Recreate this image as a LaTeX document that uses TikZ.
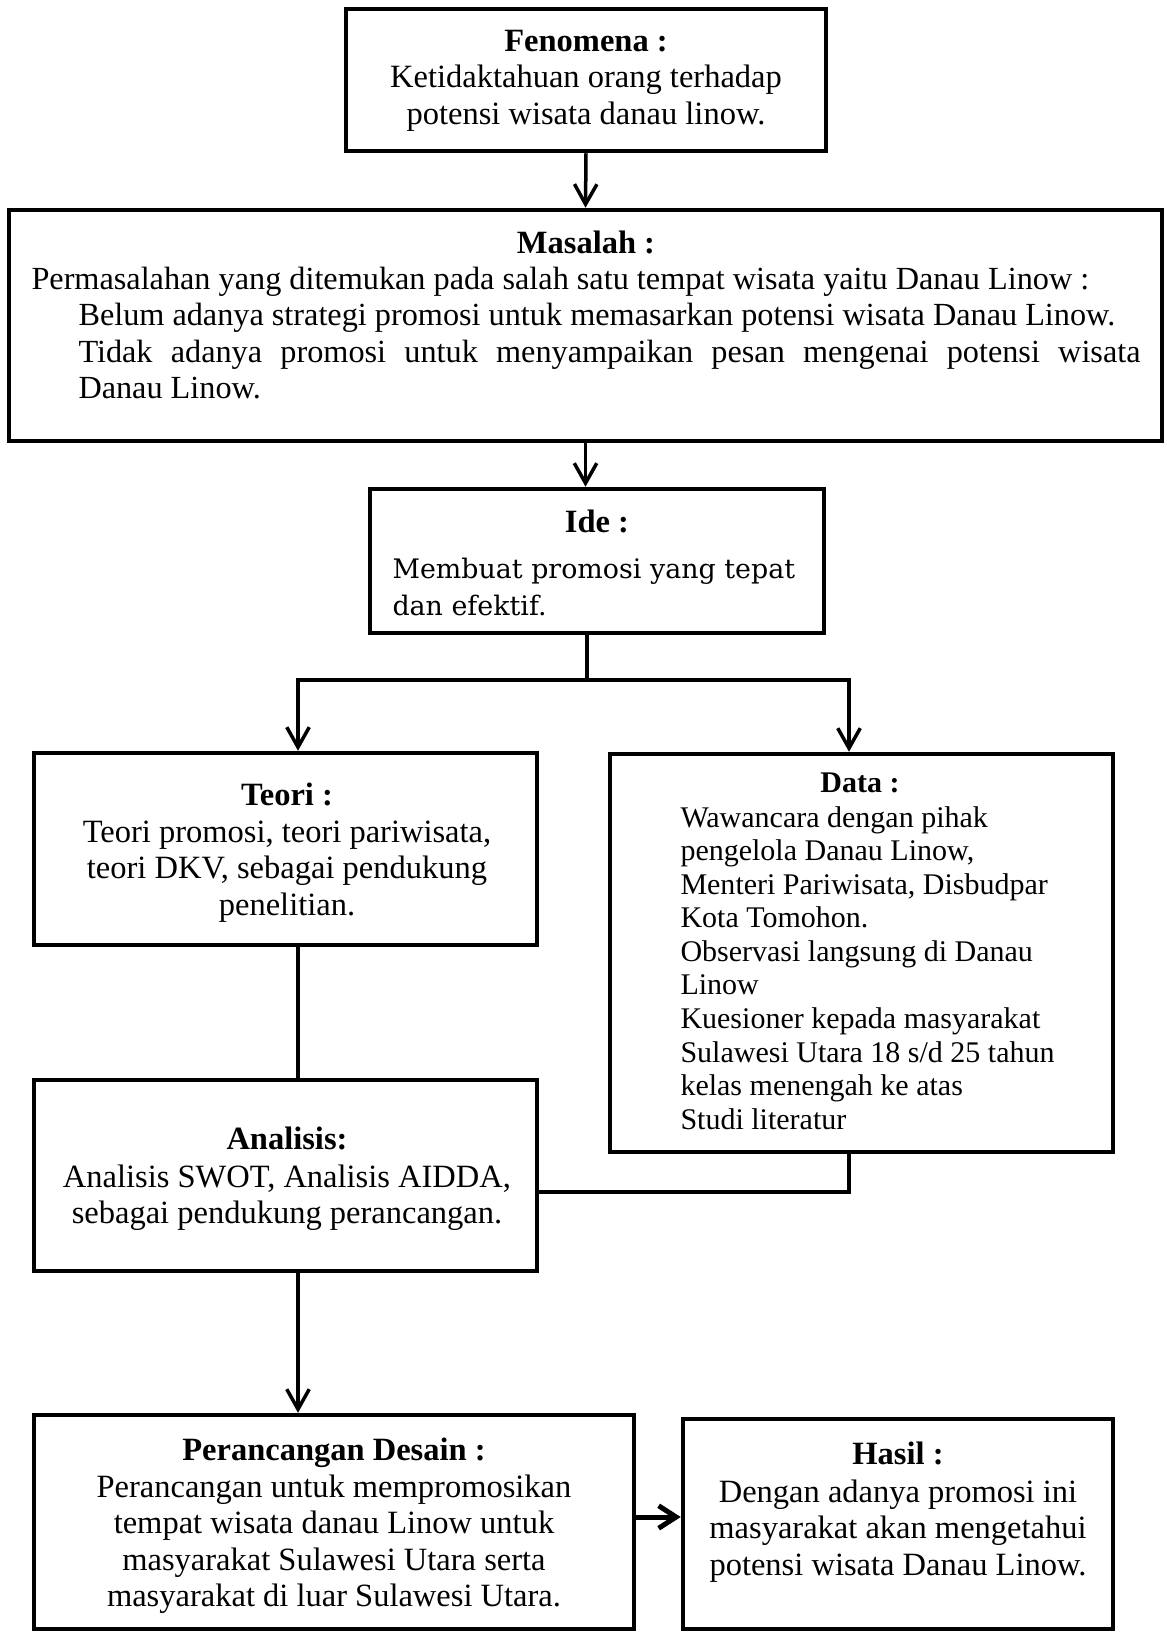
\documentclass[tikz,border=0pt]{standalone}
\usepackage{fontspec}
\setmainfont{Liberation Serif}
\newfontfamily\idefont{DejaVu Serif}
\usetikzlibrary{arrows.meta}
\begin{document}
\begin{tikzpicture}[x=0.4pt,y=-0.4pt,
  box/.style={draw, line width=1.8pt, inner sep=0pt},
  conn/.style={line width=1.4pt},
  arr/.style={line width=1.4pt, -{Straight Barb[length=8pt,width=9pt]}},
  arrbig/.style={line width=2pt, -{Straight Barb[length=7pt,width=9pt]}},
  split/.style={line width=1.9pt, line cap=rect},
  natsp/.style={execute at begin node={\spaceskip=0pt\xspaceskip=0pt\relax}},
  head/.style={inner sep=0pt, anchor=base, font=\fontsize{13}{14.6}\selectfont\bfseries},
  body/.style={natsp, inner sep=0pt, anchor=base, align=flush center, text width=225pt, font=\fontsize{13}{14.6}\selectfont},
  dhead/.style={inner sep=0pt, anchor=base, font=\fontsize{12}{13.4}\selectfont\bfseries},
  dbody/.style={natsp, inner sep=0pt, anchor=base west, align=flush left, text width=180pt, font=\fontsize{12}{13.43}\selectfont},
  ibody/.style={natsp, inner sep=0pt, anchor=base west, align=flush left, text width=172pt, font=\idefont\fontsize{10.75}{14.8}\selectfont}
]
\useasboundingbox (0,0) rectangle (1166,1632);

% boxes
\node[box, minimum width=192pt, minimum height=56.8pt] (fen) at (586,80) {};
\node[box, minimum width=461.2pt, minimum height=92.4pt] (mas) at (585.5,325.5) {};
\node[box, minimum width=181.6pt, minimum height=57.6pt] (ide) at (597,561) {};
\node[box, minimum width=201.2pt, minimum height=76.8pt] (teo) at (285.5,849) {};
\node[box, minimum width=201.2pt, minimum height=159.2pt] (dat) at (861.5,953) {};
\node[box, minimum width=201.2pt, minimum height=76.4pt] (ana) at (285.5,1175.5) {};
\node[box, minimum width=240pt, minimum height=85.6pt] (per) at (334,1522) {};
\node[box, minimum width=172pt, minimum height=84pt] (has) at (898,1524) {};

% texts
\node[head] (fenh) at (586,51.7) {Fenomena :};
\node[body] (fent) at (586,88) {Ketidaktahuan orang terhadap\\potensi wisata danau linow.};

\node[head] (mash) at (586,253) {Masalah :};
\node[natsp, inner sep=0pt, anchor=base west, align=justify, text width=443.6pt,
      font=\fontsize{12.9}{14.6}\selectfont] (mast) at (31,289)
 {\parindent=0pt Permasalahan yang ditemukan pada salah satu tempat wisata yaitu Danau Linow :\par
  \leftskip=18.8pt Belum adanya strategi promosi untuk memasarkan potensi wisata Danau Linow.\par
  Tidak adanya promosi untuk menyampaikan pesan mengenai potensi wisata\linebreak Danau Linow.\par};

\node[head] (ideh) at (597,532) {Ide :};
\node[ibody] (idet) at (392,578) {Membuat promosi yang tepat\\dan efektif.};

\node[head] (teoh) at (287,805) {Teori :};
\node[body] (teot) at (287,842) {Teori promosi, teori pariwisata,\\teori DKV, sebagai pendukung\\penelitian.};

\node[dhead] (dath) at (860,792) {Data :};
\node[dbody] (datt) at (680,827) {Wawancara dengan pihak\\pengelola Danau Linow,\\Menteri Pariwisata, Disbudpar\\Kota Tomohon.\\Observasi langsung di Danau\\Linow\\Kuesioner kepada masyarakat\\Sulawesi Utara 18 s/d 25 tahun\\kelas menengah ke atas\\Studi literatur};

\node[head] (anah) at (287,1149) {Analisis:};
\node[body] (anat) at (287,1187) {Analisis SWOT, Analisis AIDDA,\\sebagai pendukung perancangan.};

\node[head] (perh) at (334,1460) {Perancangan Desain :};
\node[body] (pert) at (334,1497) {Perancangan untuk mempromosikan\\tempat wisata danau Linow untuk\\masyarakat Sulawesi Utara serta\\masyarakat di luar Sulawesi Utara.};

\node[head] (hash) at (898,1464) {Hasil :};
\node[body] (hast) at (898,1502) {Dengan adanya promosi ini\\masyarakat akan mengetahui\\potensi wisata Danau Linow.};

% connectors
\coordinate (sp) at (587,680);
\coordinate (tl) at (298,680);
\coordinate (tr) at (849,680);
\coordinate (dj) at (849,1192);
\coordinate (hy) at (0,1517);

\draw[arr] (fen.south) -- (mas.north);
\draw[arr] (mas.south) -- (mas.south |- ide.north);
\draw[conn] (sp |- ide.south) -- (sp);
\draw[split] (tl) -- (tr);
\draw[arr] (tl) -- (tl |- teo.north);
\draw[arr] (tr) -- (tr |- dat.north);
\draw[conn] (tl |- teo.south) -- (tl |- ana.north);
\draw[conn, line width=1.8pt] (tr |- dat.south) -- (dj) -- (dj -| ana.east);
\draw[arr] (tl |- ana.south) -- (tl |- per.north);
\draw[arrbig] (hy -| per.east) -- (hy -| has.west);
\end{tikzpicture}
\end{document}
